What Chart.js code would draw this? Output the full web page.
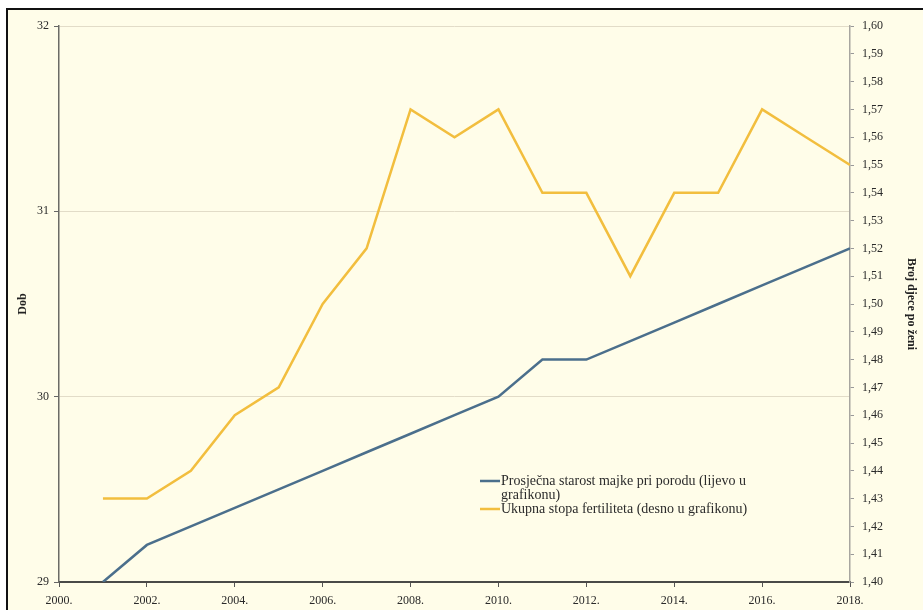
<!DOCTYPE html>
<html>
<head>
<meta charset="utf-8">
<script src="https://cdn.jsdelivr.net/npm/chart.js@4"></script>
<style>
    html, body { margin: 0; padding: 0; background: #fff; }
    #frame {
        position: absolute; left: 6px; top: 8px; width: 923px; height: 610px;
        border-top: 2px solid #111; border-left: 2px solid #111;
        background: #fffde9;
    }
    #wrap { position: absolute; left: 0; top: 0; width: 923px; height: 610px; }
</style>
</head>
<body>
<div id="frame"></div>
<div id="wrap"><canvas id="chart" width="923" height="610"></canvas></div>
<script>
const years = [2001, 2002, 2003, 2004, 2005, 2006, 2007, 2008, 2009, 2010, 2011, 2012, 2013, 2014, 2015, 2016, 2017, 2018];
const motherAge = [29.0, 29.2, 29.3, 29.4, 29.5, 29.6, 29.7, 29.8, 29.9, 30.0, 30.2, 30.2, 30.3, 30.4, 30.5, 30.6, 30.7, 30.8];
const fertility = [1.43, 1.43, 1.44, 1.46, 1.47, 1.50, 1.52, 1.57, 1.56, 1.57, 1.54, 1.54, 1.51, 1.54, 1.54, 1.57, 1.56, 1.55];
const seriesLabels = [
    'Prosječna starost majke pri porodu (lijevo u grafikonu)',
    'Ukupna stopa fertiliteta (desno u grafikonu)'
];
const leftTitle = 'Dob';
const rightTitle = 'Broj djece po ženi';

const FONT = '"Liberation Serif", "Times New Roman", serif';

// legend drawn inside the plot, with wrapped text like the original
const innerLegend = {
    id: 'innerLegend',
    afterDraw(chart) {
        const ctx = chart.ctx;
        const x0 = 480, lineW = 20, maxW = 262, lh = 14;
        let y = 481;
        ctx.save();
        ctx.font = '14px ' + FONT;
        ctx.textBaseline = 'middle';
        chart.data.datasets.forEach(ds => {
            ctx.strokeStyle = ds.borderColor;
            ctx.lineWidth = 2.5;
            ctx.beginPath();
            ctx.moveTo(x0, y);
            ctx.lineTo(x0 + lineW, y);
            ctx.stroke();
            ctx.fillStyle = '#2b2b2b';
            // simple word wrap
            const words = ds.label.split(' ');
            let line = '';
            words.forEach(w => {
                const test = line ? line + ' ' + w : w;
                if (ctx.measureText(test).width > maxW && line) {
                    ctx.fillText(line, x0 + lineW + 1, y);
                    line = w;
                    y += lh;
                } else {
                    line = test;
                }
            });
            ctx.fillText(line, x0 + lineW + 1, y);
            y += lh;
        });
        ctx.restore();
    }
};

new Chart(document.getElementById('chart').getContext('2d'), {
    type: 'line',
    data: {
        datasets: [{
            label: seriesLabels[0],
            data: years.map((yr, i) => ({ x: yr, y: motherAge[i] })),
            borderColor: '#4b6f8c',
            borderWidth: 2.5,
            pointRadius: 0,
            tension: 0,
            yAxisID: 'yLeft'
        }, {
            label: seriesLabels[1],
            data: years.map((yr, i) => ({ x: yr, y: fertility[i] })),
            borderColor: '#f2be3e',
            borderWidth: 2.5,
            pointRadius: 0,
            tension: 0,
            yAxisID: 'yRight'
        }]
    },
    options: {
        responsive: false,
        animation: false,
        devicePixelRatio: 1,
        layout: { padding: { top: 26, left: 16, right: 5, bottom: 0 } },
        plugins: {
            legend: { display: false },
            tooltip: { enabled: false }
        },
        scales: {
            x: {
                type: 'linear',
                min: 2000,
                max: 2018,
                afterFit: s => { s.height = 28; },
                ticks: {
                    stepSize: 2,
                    autoSkip: false,
                    maxRotation: 0,
                    padding: 7,
                    color: '#2a2a2a',
                    font: { family: FONT, size: 12 },
                    callback: v => v + '.'
                },
                grid: {
                    drawOnChartArea: false,
                    tickLength: 5,
                    tickColor: '#555',
                    tickWidth: 1
                },
                border: { color: '#4a4a48', width: 2 }
            },
            yLeft: {
                position: 'left',
                min: 29,
                max: 32,
                afterFit: s => { s.width = 43; },
                ticks: {
                    stepSize: 1,
                    padding: 5,
                    color: '#2a2a2a',
                    font: { family: FONT, size: 12 }
                },
                title: {
                    display: true,
                    text: leftTitle,
                    color: '#222',
                    font: { family: FONT, size: 12, weight: 'bold' },
                    padding: { top: 0, bottom: 0 }
                },
                grid: {
                    color: '#e2dcc8',
                    lineWidth: 1,
                    tickLength: 5,
                    tickColor: '#666'
                },
                border: { color: '#6b6b66', width: 1.5 }
            },
            yRight: {
                position: 'right',
                min: 1.40,
                max: 1.60,
                afterFit: s => { s.width = 68; },
                ticks: {
                    stepSize: 0.01,
                    autoSkip: false,
                    padding: 8,
                    color: '#2a2a2a',
                    font: { family: FONT, size: 12 },
                    callback: v => v.toFixed(2).replace('.', ',')
                },
                title: {
                    display: true,
                    text: rightTitle,
                    color: '#222',
                    font: { family: FONT, size: 12, weight: 'bold' },
                    padding: { top: 0, bottom: 0 }
                },
                grid: {
                    drawOnChartArea: false,
                    tickLength: 4,
                    tickColor: '#999'
                },
                border: { color: '#a8a6a0', width: 1.5 }
            }
        }
    },
    plugins: [innerLegend]
});
</script>
</body>
</html>
